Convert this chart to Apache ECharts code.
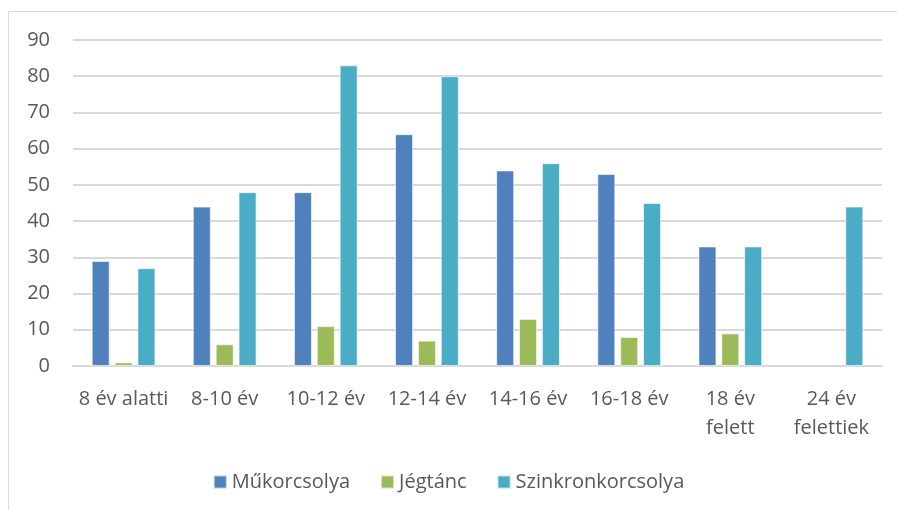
<!DOCTYPE html>
<html>
<head>
<meta charset="utf-8">
<script src="https://cdn.jsdelivr.net/npm/echarts@6/dist/echarts.min.js"></script>
<style>
	html, body { margin: 0; padding: 0; background: #fff; }
	#main { width: 897px; height: 510px; }
</style>
</head>
<body>
<div id="main"></div>
<script>
// adatok
var categories = ['8 év alatti', '8-10 év', '10-12 év', '12-14 év', '14-16 év', '16-18 év', '18 év\nfelett', '24 év\nfelettiek'];
var seriesNames = ['Műkorcsolya', 'Jégtánc', 'Szinkronkorcsolya'];
var mukorcsolya = [29, 44, 48, 64, 54, 53, 33, null];
var jegtanc = [1, 6, 11, 7, 13, 8, 9, null];
var szinkron = [27, 48, 83, 80, 56, 45, 33, 44];
var yTicks = [0, 10, 20, 30, 40, 50, 60, 70, 80, 90];

var colors = ['#4f81bd', '#9bbb59', '#4bacc6'];
var font = '"Open Sans", "Liberation Sans", sans-serif';
var textColor = '#595959';

var chart = echarts.init(document.getElementById('main'));

function bar(name, data) {
	return {
		name: name,
		type: 'bar',
		data: data,
		barWidth: 18,
		barGap: '27%',
		itemStyle: { borderColor: 'rgba(255,255,255,0.6)', borderWidth: 1 }
	};
}

chart.setOption({
	animation: false,
	color: colors,
	textStyle: { fontFamily: font },
	graphic: [{
		type: 'rect',
		shape: { x: 8.5, y: 11.5, width: 900, height: 520 },
		style: { fill: 'none', stroke: '#d9d9d9', lineWidth: 1 },
		silent: true
	}],
	grid: { left: 73, right: 15, top: 40, bottom: 144 },
	legend: {
		data: seriesNames,
		top: 467,
		left: 'center',
		itemWidth: 13,
		itemHeight: 13,
		itemGap: 30,
		icon: 'rect',
		textStyle: { color: textColor, fontSize: 20, fontFamily: font }
	},
	xAxis: {
		type: 'category',
		data: categories,
		axisLine: { lineStyle: { color: '#d9d9d9', width: 2 } },
		axisTick: { show: false },
		axisLabel: { color: textColor, fontSize: 20, margin: 19, lineHeight: 29, fontFamily: font, interval: 0 }
	},
	yAxis: {
		type: 'value',
		min: yTicks[0],
		max: yTicks[yTicks.length - 1],
		interval: yTicks[1] - yTicks[0],
		axisLine: { show: false },
		axisTick: { show: false },
		axisLabel: { color: textColor, fontSize: 20, margin: 23, fontFamily: font },
		splitLine: { lineStyle: { color: '#d9d9d9', width: 2 } }
	},
	series: [
		bar(seriesNames[0], mukorcsolya),
		bar(seriesNames[1], jegtanc),
		bar(seriesNames[2], szinkron)
	]
});
</script>
</body>
</html>
